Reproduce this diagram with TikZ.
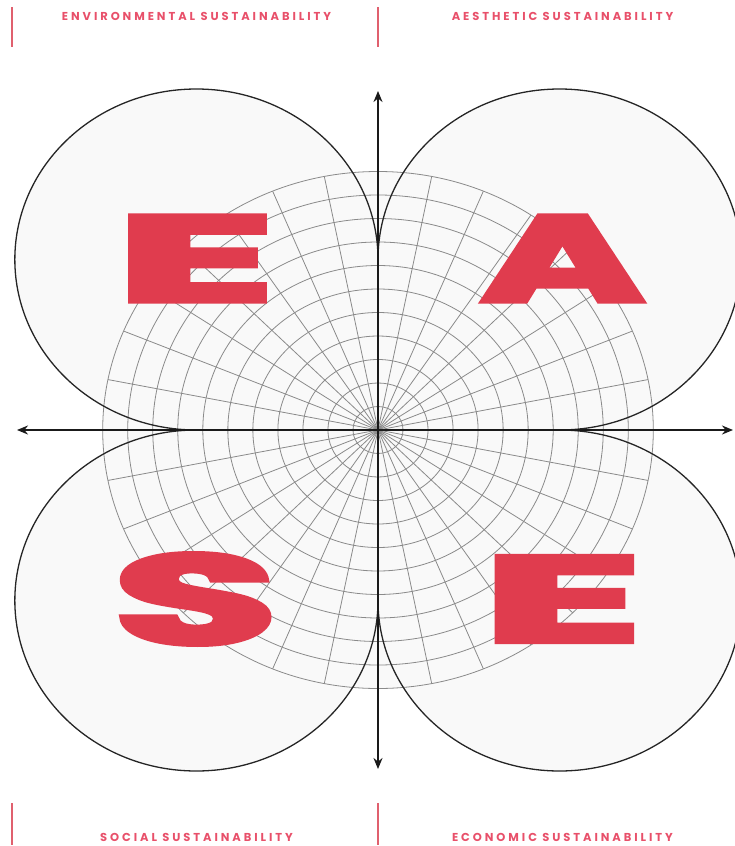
\documentclass[tikz,border=0pt]{standalone}
\usepackage{fontspec}
\usepackage{graphicx}
\usetikzlibrary{arrows.meta}
\newfontfamily\labelfont{Poppins}[LetterSpace=25.5]
\newfontfamily\bigfont{Poppins}[FakeBold=4]
\definecolor{petalfill}{HTML}{F9F9F9}
\definecolor{gridgray}{HTML}{8A8A8A}
\definecolor{letterred}{HTML}{E03C4E}
\definecolor{labelred}{HTML}{E8506A}
\definecolor{rulered}{HTML}{E0606E}
\definecolor{ink}{HTML}{1A1A1A}
\tikzset{
  petalbg/.style={fill=petalfill, draw=none},
  petalline/.style={draw=ink!95, line width=1.3pt},
  gridline/.style={draw=gridgray, line width=0.8pt},
  axisline/.style={draw=ink, line width=2pt, {Stealth[length=11pt,width=9pt]}-{Stealth[length=11pt,width=9pt]}},
  rule/.style={draw=rulered, line width=1.2pt},
  caption/.style={text=labelred, inner sep=0pt, font=\labelfont\bfseries\fontsize{11.5}{13}\selectfont},
  bigletter/.style={text=letterred, inner sep=0pt, font=\bigfont\bfseries}
}
\begin{document}
\begin{tikzpicture}[x=1pt,y=-1pt]
\useasboundingbox (0,0) rectangle (734,846);
% polar part, centred on the axes' crossing, stretched horizontally
\begin{scope}[shift={(378,430)}, x=1.065pt, y=1pt]
  \fill[petalfill] (-170.5,170.5) circle[radius=170.5];
  \fill[petalfill] (170.5,170.5) circle[radius=170.5];
  \fill[petalfill] (-170.5,-170.5) circle[radius=170.5];
  \fill[petalfill] (170.5,-170.5) circle[radius=170.5];
  \fill[petalfill] (0,0) circle[radius=258.5];
  \foreach \k in {1,...,11} \draw[gridline] (0,0) circle[radius=23.5*\k];
  \foreach \a in {0,11.25,...,348.75} \draw[gridline] (0,0) -- (\a:258.5);
  \draw[petalline] (0,170.5) arc[start angle=0, end angle=270, radius=170.5];
  \draw[petalline] (170.5,0) arc[start angle=-90, end angle=180, radius=170.5];
  \draw[petalline] (-170.5,0) arc[start angle=90, end angle=360, radius=170.5];
  \draw[petalline] (0,-170.5) arc[start angle=180, end angle=450, radius=170.5];
\end{scope}
% letters
\node[bigletter] (eenv) at (195.5,258.5) {\resizebox{159.5pt}{85.5pt}{E}};
\node[bigletter] (aaes) at (562.5,258.5) {\resizebox{163.5pt}{85.5pt}{A}};
\node[bigletter] (ssoc) at (195.5,599) {\resizebox{164pt}{90pt}{S}};
\node[bigletter] (eeco) at (562.5,599) {\resizebox{160.5pt}{85.5pt}{E}};
% axes
\coordinate (top) at (378,91);
\coordinate (bottom) at (378,769);
\coordinate (left) at (17,430);
\coordinate (right) at (733,430);
\draw[axisline] (bottom) -- (top);
\draw[axisline] (left) -- (right);
% header and footer rules
\coordinate (r1a) at (12,7);   \coordinate (r1b) at (12,47);
\coordinate (r2a) at (378,7);  \coordinate (r2b) at (378,47);
\coordinate (r3a) at (12,803); \coordinate (r3b) at (12,845);
\coordinate (r4a) at (378,803);\coordinate (r4b) at (378,845);
\draw[rule] (r1a) -- (r1b);
\draw[rule] (r2a) -- (r2b);
\draw[rule] (r3a) -- (r3b);
\draw[rule] (r4a) -- (r4b);
% captions
\node[caption] (cenv) at (196.5,16.5) {ENVIRONMENTAL SUSTAINABILITY};
\node[caption] (caes) at (562.5,16.5) {AESTHETIC SUSTAINABILITY};
\node[caption] (csoc) at (196.5,837) {SOCIAL SUSTAINABILITY};
\node[caption] (ceco) at (562.5,837) {ECONOMIC SUSTAINABILITY};
\end{tikzpicture}
\end{document}
